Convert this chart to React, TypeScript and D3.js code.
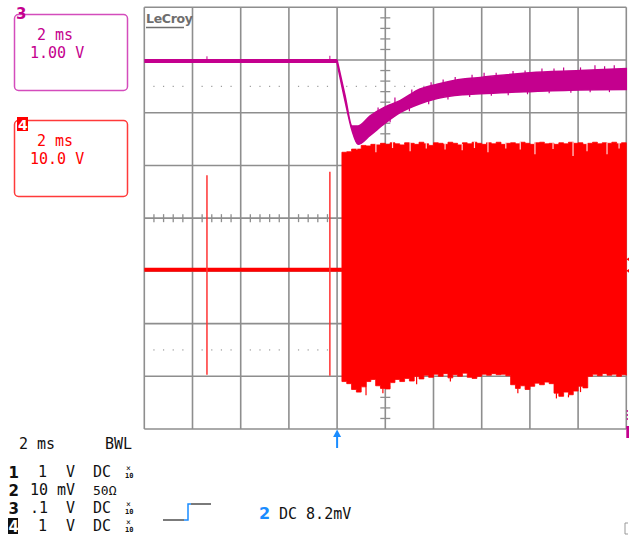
import React from "react";
import * as d3 from "d3";

// ---- Channel 3 (magenta, 1.00 V/div, 2 ms/div) ----
const ch3FlatLevel = 2.98; // V, before the transition
const ch3FlatSpikes = [
  { t: 2.6, v: 3.07 },
  { t: 7.7, v: 3.08 },
];
const ch3Times = [8.0, 8.33, 8.62, 8.87, 9.37, 9.99, 10.61, 11.44, 12.15, 13.23, 13.94, 16.0, 18.08, 20.0];
const ch3Upper = [3.0, 2.33, 1.75, 1.75, 1.94, 2.11, 2.23, 2.45, 2.54, 2.64, 2.67, 2.76, 2.8, 2.84];
const ch3Lower = [2.94, 2.22, 1.66, 1.4, 1.57, 1.8, 2.0, 2.17, 2.27, 2.34, 2.36, 2.4, 2.43, 2.44];
const ch3UpperSpikes = [
  { t: 9.7, v: 2.1 }, { t: 10.4, v: 2.29 }, { t: 11.1, v: 2.44 }, { t: 11.9, v: 2.58 },
  { t: 12.4, v: 2.63 }, { t: 12.9, v: 2.68 }, { t: 13.6, v: 2.72 }, { t: 14.1, v: 2.76 },
  { t: 14.6, v: 2.76 }, { t: 15.3, v: 2.79 }, { t: 15.8, v: 2.8 }, { t: 16.5, v: 2.84 },
  { t: 17.0, v: 2.84 }, { t: 17.4, v: 2.86 }, { t: 18.1, v: 2.86 }, { t: 18.7, v: 2.9 },
  { t: 19.1, v: 2.88 }, { t: 19.5, v: 2.9 },
];
const ch3LowerSpikes = [
  { t: 10.2, v: 1.82 }, { t: 11.0, v: 2.03 }, { t: 11.8, v: 2.16 }, { t: 12.6, v: 2.25 },
  { t: 13.5, v: 2.3 }, { t: 14.4, v: 2.32 }, { t: 15.1, v: 2.33 }, { t: 15.9, v: 2.35 },
  { t: 16.8, v: 2.37 }, { t: 17.7, v: 2.38 }, { t: 18.5, v: 2.39 }, { t: 19.3, v: 2.39 },
];

// ---- Channel 4 (red, 10.0 V/div) ----
const ch4FlatLevel = -9.81;
const ch4Glitches = [
  { t: 2.6, top: 8.16, bottom: -29.7 },
  { t: 7.7, top: 8.79, bottom: -29.9 },
];
const ch4BandStart = 8.2;
const ch4BandStep = 0.2;
const ch4Top = [
  12.5, 12.6, 13.1, 13.1, 13.8, 13.7, 14.0, 13.9, 14.2, 14.0,
  14.3, 14.1, 13.9, 14.3, 14.2, 14.0, 14.4, 14.1, 13.8, 14.3,
  14.2, 14.0, 14.4, 14.2, 13.9, 14.3, 14.1, 14.4, 14.2, 14.0,
  14.3, 14.1, 14.4, 14.0, 14.2, 14.3, 14.1, 14.4, 14.2, 14.0,
  14.3, 14.4, 14.1, 14.2, 14.0, 14.3, 14.1, 14.4, 14.2, 14.3,
  14.0, 14.2, 14.4, 14.1, 14.3, 14.2, 14.4, 14.1, 14.3, 14.2,
];
const ch4Bottom = [
  -31.0, -31.4, -32.5, -33.0, -32.0, -31.0, -30.6, -31.8, -32.3, -32.4,
  -31.2, -30.6, -31.0, -30.4, -30.9, -30.0, -30.5, -29.8, -30.2, -29.6,
  -30.0, -29.5, -30.3, -29.7, -30.0, -29.4, -30.2, -30.4, -30.0, -29.6,
  -29.8, -29.5, -29.7, -29.6, -29.9, -31.6, -32.3, -31.8, -32.5, -31.9,
  -31.3, -31.6, -31.1, -31.4, -33.2, -33.8, -33.0, -33.5, -32.8, -31.9,
  -32.2, -30.0, -29.6, -29.9, -29.5, -29.8, -29.6, -30.0, -29.7, -29.8,
];
const ch4TopNotches = [
  { t: 8.82, v: 13.0 }, { t: 9.61, v: 12.5 }, { t: 10.3, v: 13.3 }, { t: 11.03, v: 12.7 },
  { t: 11.7, v: 13.2 }, { t: 12.48, v: 13.0 }, { t: 13.19, v: 12.9 }, { t: 13.7, v: 13.3 },
  { t: 14.26, v: 12.5 }, { t: 15.0, v: 13.2 }, { t: 15.6, v: 13.0 }, { t: 16.21, v: 12.1 },
  { t: 16.96, v: 13.1 }, { t: 17.79, v: 11.8 }, { t: 18.37, v: 12.7 }, { t: 19.2, v: 12.1 },
  { t: 19.7, v: 13.2 },
];
const ch4BottomSpikes = [
  { t: 9.2, v: -33.6 }, { t: 9.9, v: -33.2 }, { t: 11.3, v: -31.5 }, { t: 12.7, v: -31.0 },
  { t: 15.5, v: -33.2 }, { t: 17.1, v: -34.2 }, { t: 17.6, v: -34.0 }, { t: 18.1, v: -33.0 },
];

// ---- Readouts ----
const timebase = "2 ms";
const ch3Readout = ["2 ms", "1.00 V"];
const ch4Readout = ["2 ms", "10.0 V"];
const channelRows = [
  { ch: "1", vdiv: "1", unit: "V", coupling: "DC", probe: true, inverted: false },
  { ch: "2", vdiv: "10", unit: "mV", coupling: "50Ω", probe: false, inverted: false },
  { ch: "3", vdiv: ".1", unit: "V", coupling: "DC", probe: true, inverted: false },
  { ch: "4", vdiv: "1", unit: "V", coupling: "DC", probe: true, inverted: true },
];
const triggerTime = 8.0; // ms
const triggerText = "DC 8.2mV";

const MAG = "#c4008e";
const MAG_LIGHT = "#d44cbc";
const RED = "#ff0000";
const GRID = "#8e8e8e";
const BLUE = "#1a8cff";
const MONO = "'DejaVu Sans Mono', monospace";

export default function App() {
  const x = d3.scaleLinear().domain([0, 20]).range([144.3, 626.3]);
  const y3 = d3.scaleLinear().domain([-4, 4]).range([429, 7.3]);
  const y4 = d3.scaleLinear().domain([-40, 40]).range([429, 7.3]);
  const yDiv = y3; // divisions

  const divX = d3.range(0, 11).map((i) => x(i * 2));
  const divY = d3.range(-4, 5).map((j) => yDiv(j));
  const minorX = d3.range(0, 50).filter((i) => i % 5 !== 0).map((i) => x(i * 0.4));
  const minorY = d3.range(-20, 21).filter((i) => i % 5 !== 0).map((i) => yDiv(i / 5));

  const ch4Times = ch4Top.map((_, i) => ch4BandStart + i * ch4BandStep);
  const ch4Area = d3
    .area<number>()
    .x((_, i) => x(ch4Times[i]))
    .y0((_, i) => y4(ch4Bottom[i]))
    .y1((_, i) => y4(ch4Top[i]))
    .curve(d3.curveStepAfter);

  const ch3Area = d3
    .area<number>()
    .x((_, i) => x(ch3Times[i]))
    .y0((_, i) => y3(ch3Lower[i]))
    .y1((_, i) => y3(ch3Upper[i]))
    .curve(d3.curveMonotoneX);

  const interp = (arr: number[], t: number) => {
    const j = Math.min(ch3Times.length - 2, Math.max(0, d3.bisectRight(ch3Times, t) - 1));
    const f = (t - ch3Times[j]) / (ch3Times[j + 1] - ch3Times[j]);
    return arr[j] + f * (arr[j + 1] - arr[j]);
  };

  const left = x(0);
  const right = x(20);
  const top = yDiv(4);
  const bottom = yDiv(-4);
  const cx = x(10);
  const cy = yDiv(0);

  const rowY = [477, 495, 513, 531];

  return (
    <svg width={629} height={539} style={{ position: "absolute", left: 0, top: 0, background: "#fff" }}>
      {/* Grid */}
      <g stroke={GRID} strokeWidth={1.6} fill="none">
        {divX.map((gx, i) => (
          <line key={"vx" + i} x1={gx} x2={gx} y1={top} y2={bottom} />
        ))}
        {divY.map((gy, i) => (
          <line key={"hy" + i} x1={left} x2={right} y1={gy} y2={gy} />
        ))}
        {minorX.map((mx, i) => (
          <line key={"tx" + i} x1={mx} x2={mx} y1={cy - 4} y2={cy + 4} strokeWidth={1.3} />
        ))}
        {minorY.map((my, i) => (
          <line key={"ty" + i} x1={cx - 5} x2={cx + 5} y1={my} y2={my} strokeWidth={1.3} />
        ))}
      </g>
      <g fill="#9a9a9a">
        {[2.5, -2.5].map((d) =>
          minorX.map((mx, i) => <rect key={"dot" + d + i} x={mx - 0.6} y={yDiv(d) - 0.6} width={1.2} height={1.2} />)
        )}
      </g>

      {/* LeCroy logo */}
      <text x={146} y={23} fontFamily="'DejaVu Sans', sans-serif" fontWeight="bold" fontSize={12.5} fill="#6e6e6e" letterSpacing={-0.3}>
        LeCroy
      </text>
      <line x1={146} x2={184} y1={27.5} y2={27.5} stroke="#6e6e6e" strokeWidth={1.6} />

      {/* Channel 4 (red) */}
      <line x1={x(0)} x2={x(ch4BandStart)} y1={y4(ch4FlatLevel)} y2={y4(ch4FlatLevel)} stroke={RED} strokeWidth={4} />
      {ch4Glitches.map((g, i) => (
        <line key={"gl" + i} x1={x(g.t)} x2={x(g.t)} y1={y4(g.top)} y2={y4(g.bottom)} stroke="#f33" strokeWidth={1.5} />
      ))}
      <path d={ch4Area(ch4Top) || ""} fill={RED} stroke={RED} strokeWidth={0.8} />
      {ch4TopNotches.map((n, i) => {
        const k = Math.min(ch4Top.length - 1, Math.max(0, Math.floor((n.t - ch4BandStart) / ch4BandStep)));
        return (
          <line key={"tn" + i} x1={x(n.t)} x2={x(n.t)} y1={y4(ch4Top[k]) - 1} y2={y4(n.v)} stroke="#ffd8d8" strokeWidth={1.2} />
        );
      })}
      {ch4BottomSpikes.map((n, i) => {
        const k = Math.min(ch4Top.length - 1, Math.max(0, Math.floor((n.t - ch4BandStart) / ch4BandStep)));
        return (
          <line key={"bs" + i} x1={x(n.t)} x2={x(n.t)} y1={y4(ch4Bottom[k])} y2={y4(n.v)} stroke={RED} strokeWidth={1.2} />
        );
      })}

      {/* Channel 3 (magenta) */}
      <line x1={x(0)} x2={x(ch3Times[0])} y1={y3(ch3FlatLevel)} y2={y3(ch3FlatLevel)} stroke={MAG} strokeWidth={4} />
      {ch3FlatSpikes.map((s, i) => (
        <line key={"fs" + i} x1={x(s.t)} x2={x(s.t)} y1={y3(ch3FlatLevel)} y2={y3(s.v)} stroke={MAG} strokeWidth={1} />
      ))}
      <path d={ch3Area(ch3Upper) || ""} fill={MAG} stroke={MAG} strokeWidth={1.5} />
      {ch3UpperSpikes.map((s, i) => (
        <line key={"us" + i} x1={x(s.t)} x2={x(s.t)} y1={y3(interp(ch3Upper, s.t)) + 2} y2={y3(s.v)} stroke={MAG} strokeWidth={1.2} />
      ))}
      {ch3LowerSpikes.map((s, i) => (
        <line key={"ls" + i} x1={x(s.t)} x2={x(s.t)} y1={y3(interp(ch3Lower, s.t)) - 2} y2={y3(s.v)} stroke={MAG} strokeWidth={1.2} />
      ))}

      {/* Right-edge markers */}
      <path d={`M ${right} ${y4(-7.8)} l 3 -2 l 0 4 z`} fill={RED} />
      <path d={`M ${right} ${y4(-10.0)} l 3 -2 l 0 4 z`} fill={RED} />
      <line x1={right + 1} x2={right + 1} y1={410} y2={422} stroke={MAG} strokeWidth={1} strokeDasharray="2 2" />
      <rect x={right} y={426} width={3} height={12} fill={MAG} />
      <path d={`M 628 523 L 625 523 L 625 534 L 628 534`} fill="none" stroke="#999" strokeWidth={1} />

      {/* Trigger arrow */}
      <line x1={x(triggerTime)} x2={x(triggerTime)} y1={434} y2={448} stroke={BLUE} strokeWidth={2} />
      <path d={`M ${x(triggerTime) - 4} 437 L ${x(triggerTime)} 429.5 L ${x(triggerTime) + 4} 437 Z`} fill={BLUE} />

      {/* Channel 3 box */}
      <rect x={14.5} y={14.5} width={113} height={76} rx={4} fill="none" stroke={MAG_LIGHT} strokeWidth={1.5} />
      <text x={16} y={19} fontFamily="'DejaVu Sans', sans-serif" fontWeight="bold" fontSize={15} fill={MAG}>3</text>
      <text x={37} y={40} fontFamily={MONO} fontSize={15} fill={MAG}>{ch3Readout[0]}</text>
      <text x={30} y={58} fontFamily={MONO} fontSize={15} fill={MAG}>{ch3Readout[1]}</text>

      {/* Channel 4 box */}
      <rect x={14.5} y={120.5} width={113} height={76} rx={4} fill="none" stroke="#ff3a3a" strokeWidth={1.5} />
      <rect x={17} y={117} width={11} height={14} fill={RED} />
      <text x={18} y={130} fontFamily="'DejaVu Sans', sans-serif" fontWeight="bold" fontSize={14} fill="#fff">4</text>
      <text x={37} y={146} fontFamily={MONO} fontSize={15} fill={RED}>{ch4Readout[0]}</text>
      <text x={30} y={164} fontFamily={MONO} fontSize={15} fill={RED}>{ch4Readout[1]}</text>

      {/* Bottom readouts */}
      <text x={19} y={449} fontFamily={MONO} fontSize={15} fill="#111" xmlSpace="preserve">{timebase}</text>
      <text x={105} y={449} fontFamily={MONO} fontSize={15} fill="#111">BWL</text>
      {channelRows.map((r, i) => (
        <g key={"row" + i}>
          {r.inverted && <rect x={8} y={rowY[i] - 13} width={10} height={16} fill="#111" />}
          <text x={8.5} y={rowY[i] + 1} fontFamily="'DejaVu Sans', sans-serif" fontWeight="bold" fontSize={15} fill={r.inverted ? "#fff" : "#111"}>
            {r.ch}
          </text>
          <text x={r.vdiv.length > 1 ? 30 : 38} y={rowY[i]} fontFamily={MONO} fontSize={15} fill="#111">{r.vdiv}</text>
          <text x={r.unit.length > 1 ? 57 : 66} y={rowY[i]} fontFamily={MONO} fontSize={15} fill="#111">{r.unit}</text>
          <text x={93} y={rowY[i]} fontFamily={MONO} fontSize={r.probe ? 15 : 13} fill="#111">{r.coupling}</text>
          {r.probe && (
            <g>
              <text x={126} y={rowY[i] - 6} fontFamily={MONO} fontSize={8} fill="#111">×</text>
              <text x={125} y={rowY[i] + 1} fontFamily={MONO} fontSize={7} fontWeight="bold" fill="#111">10</text>
            </g>
          )}
        </g>
      ))}

      {/* Trigger step icon */}
      <path d="M 163 520 L 184 520" stroke="#222" strokeWidth={1.2} fill="none" />
      <path d="M 184 520 L 188 520 L 188 504 L 191 504" stroke={BLUE} strokeWidth={1.5} fill="none" />
      <path d="M 191 504 L 211 504" stroke="#222" strokeWidth={1.2} fill="none" />
      <text x={259} y={519} fontFamily="'DejaVu Sans', sans-serif" fontWeight="bold" fontSize={16} fill={BLUE}>2</text>
      <text x={279} y={519} fontFamily={MONO} fontSize={15} fill="#111">{triggerText}</text>
    </svg>
  );
}
